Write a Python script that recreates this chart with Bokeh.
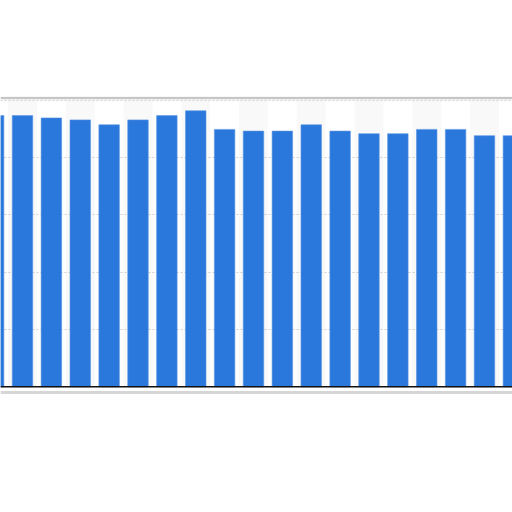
from bokeh.plotting import figure
from bokeh.models import Range1d, Span
from bokeh.embed import file_html
from bokeh.resources import INLINE

# Data (units where gridlines step by 20)
categories = [str(i) for i in range(1, 20)]
values = [94.6, 94.6, 93.8, 93.1, 91.4, 93.1, 94.6, 96.3, 89.8, 89.2,
          89.2, 91.4, 89.2, 88.3, 88.3, 89.8, 89.8, 87.6, 87.6]
grid_ticks = [0, 20, 40, 60, 80, 100]

xs = list(range(len(categories)))
band_x = [x for x in xs if x % 2 == 1]
band_top = [grid_ticks[-1]] * len(band_x)

p = figure(width=512, height=512, output_backend="svg", toolbar_location=None,
           x_range=Range1d(0.238, 17.97), y_range=Range1d(-4.78, 101.27),
           min_border_left=0, min_border_right=0, min_border_top=96,
           min_border_bottom=112)
p.background_fill_color = "white"
p.border_fill_color = "white"
p.outline_line_color = None
p.xaxis.visible = False
p.yaxis.visible = False
p.xgrid.grid_line_color = None
p.ygrid.ticker = grid_ticks
p.ygrid.grid_line_color = "#cfcfcf"
p.ygrid.grid_line_dash = "2 2"
p.ygrid.grid_line_width = 1

# alternating light column bands
p.vbar(x=band_x, top=band_top, bottom=0, width=1.0, fill_color="#f9f9f9",
       line_color=None, level="underlay")

# bars
p.vbar(x=xs, top=values, bottom=0, width=0.71, fill_color="#2b78dc",
       line_color="#5a95e4", line_width=0.6)

# card border (top) and baseline / shadow (bottom)
p.add_layout(Span(location=100.75, dimension="width", line_color="#c6c6c6", line_width=2.5))
p.add_layout(Span(location=0, dimension="width", line_color="#111111", line_width=1.5))
p.add_layout(Span(location=-2.0, dimension="width", line_color="#d6d6d6", line_width=3))

open("out.html", "w").write(file_html(p, INLINE))
